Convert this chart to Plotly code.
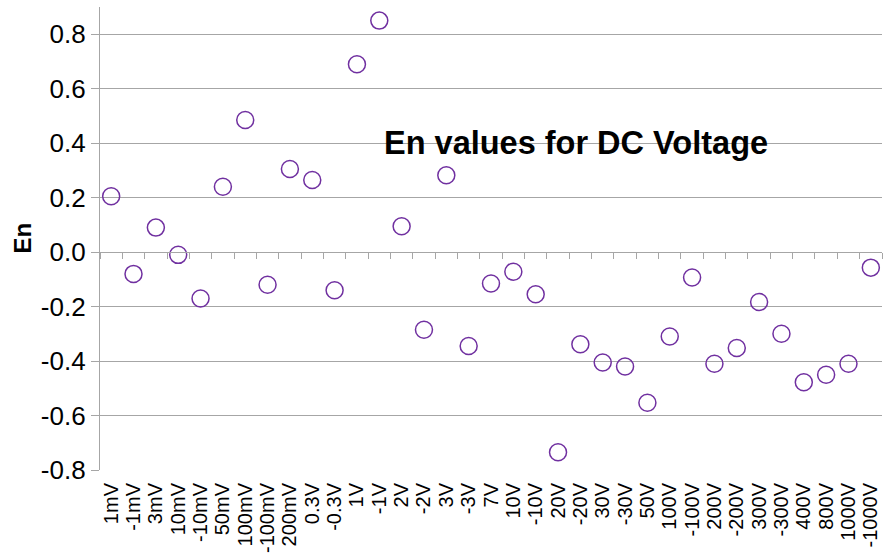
import plotly.graph_objects as go

categories = ["1mV", "-1mV", "3mV", "10mV", "-10mV", "50mV", "100mV", "-100mV", "200mV",
              "0.3V", "-0.3V", "1V", "-1V", "2V", "-2V", "3V", "-3V", "7V", "10V", "-10V",
              "20V", "-20V", "30V", "-30V", "50V", "100V", "-100V", "200V", "-200V",
              "300V", "-300V", "400V", "800V", "1000V", "-1000V"]
en_values = [0.205, -0.08, 0.09, -0.01, -0.17, 0.24, 0.485, -0.12, 0.305,
             0.265, -0.14, 0.69, 0.85, 0.095, -0.285, 0.282, -0.345, -0.115, -0.072, -0.155,
             -0.735, -0.338, -0.405, -0.42, -0.553, -0.31, -0.093, -0.41, -0.352,
             -0.183, -0.30, -0.478, -0.45, -0.41, -0.057]
y_tick_vals = [-0.8, -0.6, -0.4, -0.2, 0.0, 0.2, 0.4, 0.6, 0.8]
y_tick_text = ["-0.8", "-0.6", "-0.4", "-0.2", "0.0", "0.2", "0.4", "0.6", "0.8"]

FONT = "Liberation Sans, Arial, sans-serif"
GRAY = "#A6A6A6"
PURPLE = "#7030A0"

fig = go.Figure()
fig.add_trace(go.Scatter(
    x=categories, y=en_values, mode="markers", xaxis="x", yaxis="y",
    marker=dict(symbol="circle-open", size=17, color=PURPLE, line=dict(width=1.5, color=PURPLE)),
    showlegend=False, hoverinfo="x+y"))
# helper trace for the axis drawn at y=0
fig.add_trace(go.Scatter(
    x=categories, y=en_values, mode="markers", xaxis="x2", yaxis="y",
    marker=dict(opacity=0), showlegend=False, hoverinfo="skip"))

y_min, y_max = -0.8, 0.9
zero_pos = (0 - y_min) / (y_max - y_min)

fig.update_layout(
    width=889, height=556,
    margin=dict(l=100, r=7, t=7, b=86, autoexpand=False),
    paper_bgcolor="white", plot_bgcolor="white",
    font=dict(family=FONT, color="black"),
    xaxis=dict(type="category", categoryorder="array", categoryarray=categories,
               tickmode="array", tickvals=categories, ticktext=categories,
               range=[-0.5, len(categories) - 0.5], showline=False, ticks="",
               showgrid=False, zeroline=False, tickangle=-90, automargin=False,
               tickfont=dict(size=20, family=FONT, color="black"),
               ticklabelstandoff=8),
    xaxis2=dict(type="category", categoryorder="array", categoryarray=categories,
                range=[-0.5, len(categories) - 0.5], overlaying="x", anchor="free",
                position=zero_pos, showline=True, linecolor=GRAY, linewidth=1.3,
                ticks="outside", ticklen=6, tickcolor=GRAY, tickwidth=1.3, automargin=False,
                tickson="boundaries", showticklabels=False, showgrid=False, zeroline=False),
    yaxis=dict(range=[y_min, y_max], tickvals=y_tick_vals, ticktext=y_tick_text,
               showline=True, linecolor=GRAY, linewidth=1.3, ticks="outside", ticklen=8,
               tickcolor=GRAY, tickwidth=1.3, showgrid=True, gridcolor=GRAY, gridwidth=1.3,
               zeroline=False, automargin=False,
               tickfont=dict(size=26, family=FONT, color="black")),
    annotations=[
        dict(text="<b>En values for DC Voltage</b>", xref="paper", yref="y",
             x=0.609, y=0.40, xanchor="center", yanchor="middle", showarrow=False,
             font=dict(size=32.5, family=FONT, color="black")),
        dict(text="<b>En</b>", xref="paper", yref="y", x=-0.0997, y=0.05,
             xanchor="center", yanchor="middle", textangle=-90, showarrow=False,
             font=dict(size=24, family=FONT, color="black")),
    ],
)

fig.write_html("out.html", config={"displayModeBar": False},
               post_script="document.body.style.margin='0';document.body.style.overflow='hidden';")
